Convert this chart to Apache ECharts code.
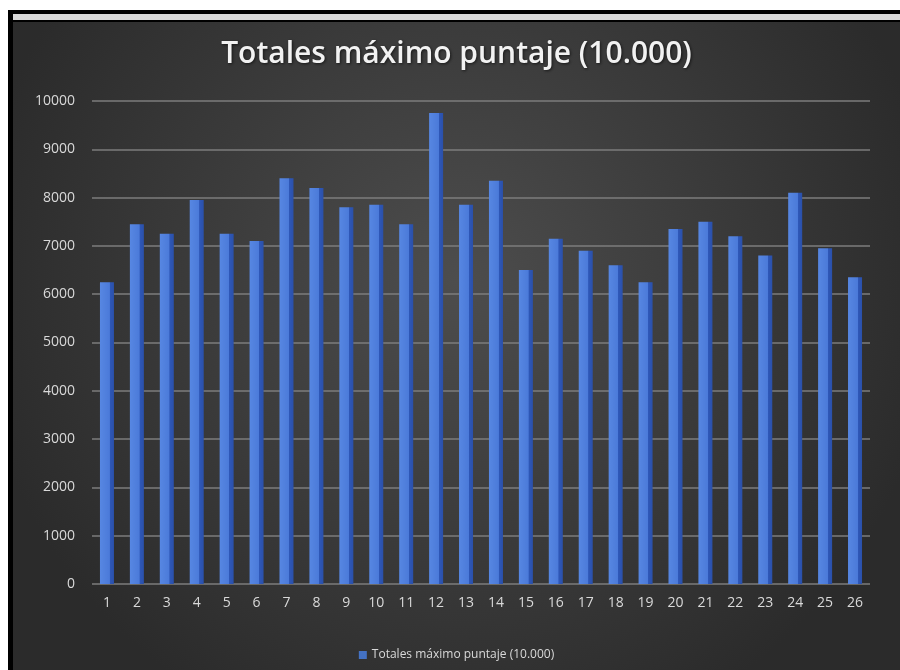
<!DOCTYPE html>
<html>
<head>
<meta charset="utf-8">
<script src="https://cdn.jsdelivr.net/npm/echarts@6/dist/echarts.min.js"></script>
<style>
  html, body { margin: 0; padding: 0; background: #fff; }
  #frame { position: absolute; left: 8px; top: 10px; width: 892px; height: 660px; background: #000; }
  #ruler { position: absolute; left: 13px; top: 14px; width: 887px; height: 6px; background: #d8d8d8; }
  #c { position: absolute; left: 13px; top: 22px; width: 887px; height: 648px; }
</style>
</head>
<body>
<div id="frame"></div>
<div id="ruler"></div>
<div id="c"></div>
<script>
const categories = ['1', '2', '3', '4', '5', '6', '7', '8', '9', '10', '11', '12', '13',
  '14', '15', '16', '17', '18', '19', '20', '21', '22', '23', '24', '25', '26']
const puntajes = [6250, 7450, 7250, 7950, 7250, 7100, 8400, 8200, 7800, 7850, 7450, 9750, 7850,
  8350, 6500, 7150, 6900, 6600, 6250, 7350, 7500, 7200, 6800, 8100, 6950, 6350]
const seriesName = 'Totales máximo puntaje (10.000)'

const eIns = echarts.init(document.getElementById('c'))

// bar face lighter on the left, darker side on the right (fake 3D)
const barColor = {
  type: 'linear',
  x: 0,
  y: 0,
  x2: 1,
  y2: 0,
  colorStops: [
    { offset: 0, color: '#5787e2' },
    { offset: 0.68, color: '#4b7ad9' },
    { offset: 0.7, color: '#2f58b8' },
    { offset: 1, color: '#2a50aa' },
  ],
}

eIns.setOption({
  backgroundColor: {
    type: 'radial',
    x: 0.5,
    y: 0.4,
    r: 0.75,
    colorStops: [
      { offset: 0, color: '#4d4d4d' },
      { offset: 1, color: '#2b2b2b' },
    ],
  },
  title: {
    text: 'Totales máximo puntaje (10.000)',
    left: 'center',
    top: 12,
    textStyle: {
      color: '#f2f2f2',
      fontFamily: 'Open Sans',
      fontWeight: 600,
      fontSize: 30,
      textShadowColor: 'rgba(0,0,0,0.6)',
      textShadowBlur: 3,
      textShadowOffsetX: 1,
      textShadowOffsetY: 1,
    },
  },
  legend: {
    bottom: 4,
    left: 'center',
    itemWidth: 8,
    itemHeight: 8,
    icon: 'rect',
    itemGap: 4,
    textStyle: { color: '#d9d9d9', fontFamily: 'Open Sans', fontSize: 12 },
    data: [{ name: seriesName, itemStyle: { color: '#4472c4' } }],
  },
  grid: {
    left: 79,
    right: 30,
    top: 79,
    bottom: 86,
  },
  xAxis: {
    type: 'category',
    data: categories,
    axisLine: { show: false },
    axisTick: { show: false },
    axisLabel: { color: '#d9d9d9', fontFamily: 'Open Sans', fontSize: 14, margin: 12 },
  },
  yAxis: {
    type: 'value',
    min: 0,
    max: 10000,
    interval: 1000,
    axisLine: { show: false },
    axisTick: { show: false },
    axisLabel: {
      color: '#d9d9d9',
      fontFamily: 'Open Sans',
      fontSize: 14,
      margin: 17,
      formatter: v => String(v),
    },
    splitLine: { lineStyle: { color: '#7c7c7c', width: 1.5 } },
  },
  series: [
    {
      name: seriesName,
      type: 'bar',
      data: puntajes,
      barWidth: 14,
      itemStyle: { color: barColor },
    },
  ],
})
</script>
</body>
</html>
